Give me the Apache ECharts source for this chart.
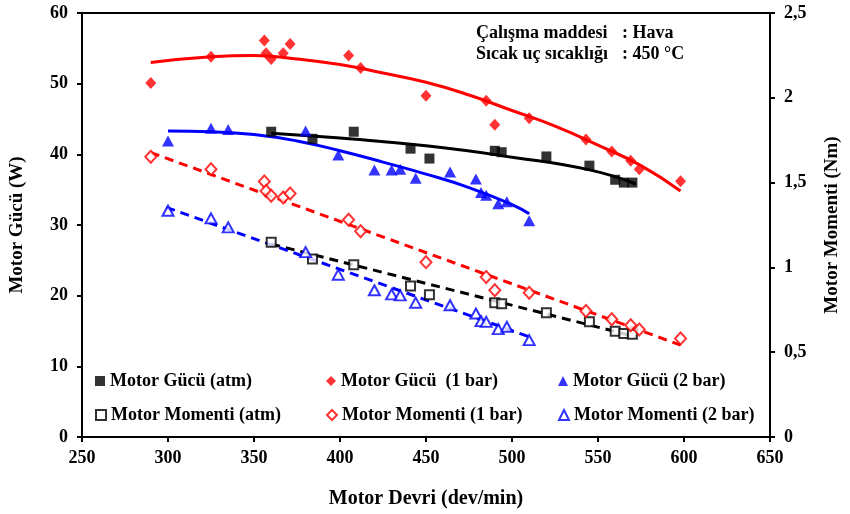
<!DOCTYPE html>
<html>
<head>
<meta charset="utf-8">
<script src="https://cdn.jsdelivr.net/npm/echarts@6/dist/echarts.min.js"></script>
<style>
  html, body { margin: 0; padding: 0; background: #fff; }
  #chart { width: 850px; height: 514px; }
</style>
</head>
<body>
<div id="chart"></div>
<script>
'use strict';

// motor speed (dev/min) for each pressure
const rpmAtm = [360, 384, 408, 441, 452, 490, 494, 520, 545, 560, 565, 570];
const rpm1Bar = [290, 325, 356, 357, 360, 367, 371, 405, 412, 450, 485, 490, 510, 543, 558, 569, 574, 598];
const rpm2Bar = [300, 325, 335, 380, 399, 420, 430, 435, 444, 464, 479, 482, 485, 492, 497, 510];

// motor power (W)
const gucAtm = [43.2, 42.2, 43.2, 40.8, 39.4, 40.5, 40.3, 39.7, 38.4, 36.4, 36.0, 36.0];
const guc1Bar = [50.1, 53.8, 56.1, 54.3, 53.5, 54.3, 55.6, 54.0, 52.2, 48.3, 47.6, 44.2, 45.1, 42.1, 40.4, 39.1, 37.9, 36.2];
const guc2Bar = [41.9, 43.7, 43.5, 43.3, 39.9, 37.8, 37.8, 37.9, 36.6, 37.5, 36.5, 34.6, 34.2, 33.0, 33.3, 30.6];

// motor torque (Nm)
const momAtm = [1.148, 1.050, 1.015, 0.890, 0.839, 0.792, 0.786, 0.733, 0.679, 0.624, 0.610, 0.606];
const mom1Bar = [1.653, 1.579, 1.506, 1.451, 1.422, 1.412, 1.436, 1.281, 1.213, 1.031, 0.943, 0.865, 0.851, 0.743, 0.694, 0.659, 0.634, 0.581];
const mom2Bar = [1.334, 1.289, 1.236, 1.090, 0.957, 0.865, 0.841, 0.835, 0.792, 0.777, 0.728, 0.683, 0.679, 0.636, 0.650, 0.571];

// trend lines
const trendGucAtmX = [360, 400, 450, 500, 545, 572];
const trendGucAtmY = [43.0, 42.3, 41.2, 39.6, 37.8, 35.8];
const trendGuc1BarX = [290, 325, 350, 375, 400, 425, 450, 475, 500, 525, 550, 575, 598];
const trendGuc1BarY = [53.0, 53.8, 54.0, 53.5, 52.7, 51.5, 50.2, 48.4, 46.2, 44.0, 41.3, 38.4, 34.8];
const trendGuc2BarX = [300, 325, 350, 375, 400, 425, 450, 475, 500, 510];
const trendGuc2BarY = [43.3, 43.2, 42.8, 41.9, 40.5, 38.9, 37.2, 35.3, 32.9, 31.6];
const trendMomAtmX = [360, 572];
const trendMomAtmY = [1.138, 0.591];
const trendMom1BarX = [290, 598];
const trendMom1BarY = [1.677, 0.542];
const trendMom2BarX = [299, 510];
const trendMom2BarY = [1.354, 0.591];

const xTicks = [250, 650, 50];
const yLeftTicks = [0, 60, 10];
const yRightTicks = [0, 2.5, 0.5];

const names = [
  'Motor Gücü (atm)', 'Motor Gücü  (1 bar)', 'Motor Gücü (2 bar)',
  'Motor Momenti (atm)', 'Motor Momenti (1 bar)', 'Motor Momenti (2 bar)'
];

const FONT = "'Liberation Serif', 'Times New Roman', serif";

function zip(xs, ys) {
  return xs.map((x, i) => [x, ys[i]]);
}

function scatter(name, symbol, size, color, hollow, yIndex, xs, ys) {
  return {
    name: name,
    type: 'scatter',
    yAxisIndex: yIndex,
    symbol: symbol,
    symbolSize: size,
    itemStyle: hollow
      ? { color: '#fff', borderColor: color, borderWidth: 2 }
      : { color: color },
    z: 3,
    data: zip(xs, ys)
  };
}

function trend(color, dashed, smooth, yIndex, xs, ys) {
  return {
    type: 'line',
    yAxisIndex: yIndex,
    showSymbol: false,
    silent: true,
    smooth: smooth,
    lineStyle: { color: color, width: 3, type: dashed ? [9, 6] : 'solid' },
    z: 2,
    data: zip(xs, ys)
  };
}

const legendPos = [[95, 372], [326, 372], [558, 372], [95, 406], [326, 406], [558, 406]];

const option = {
  animation: false,
  backgroundColor: '#fff',
  textStyle: { fontFamily: FONT },
  grid: {
    left: 82, right: 74, top: 13, bottom: 75,
    show: true, borderColor: '#000', borderWidth: 2
  },
  legend: names.map((n, i) => ({
    data: [n],
    left: legendPos[i][0],
    top: legendPos[i][1],
    padding: 0,
    itemWidth: 10,
    itemHeight: 10,
    itemGap: 0,
    textStyle: { fontFamily: FONT, fontWeight: 'bold', fontSize: 18, color: '#000', lineHeight: 18 }
  })),
  xAxis: {
    type: 'value',
    min: xTicks[0], max: xTicks[1], interval: xTicks[2],
    name: 'Motor Devri (dev/min)',
    nameLocation: 'middle',
    nameGap: 52,
    nameTextStyle: { fontFamily: FONT, fontWeight: 'bold', fontSize: 20, color: '#000' },
    axisLine: { lineStyle: { color: '#000', width: 2 } },
    axisTick: { length: 5, lineStyle: { color: '#000', width: 2 } },
    axisLabel: { margin: 12, fontFamily: FONT, fontWeight: 'bold', fontSize: 18, color: '#000' },
    splitLine: { show: false }
  },
  yAxis: [
    {
      type: 'value',
      min: yLeftTicks[0], max: yLeftTicks[1], interval: yLeftTicks[2],
      name: 'Motor Gücü (W)',
      nameLocation: 'middle',
      nameRotate: 90,
      nameGap: 55,
      nameTextStyle: { fontFamily: FONT, fontWeight: 'bold', fontSize: 19, color: '#000' },
      axisLine: { show: true, lineStyle: { color: '#000', width: 2 } },
      axisTick: { show: true, length: 5, lineStyle: { color: '#000', width: 2 } },
      axisLabel: { margin: 14, fontFamily: FONT, fontWeight: 'bold', fontSize: 18, color: '#000' },
      splitLine: { show: false }
    },
    {
      type: 'value',
      position: 'right',
      min: yRightTicks[0], max: yRightTicks[1], interval: yRightTicks[2],
      name: 'Motor Momenti (Nm)',
      nameLocation: 'middle',
      nameRotate: 90,
      nameGap: 53,
      nameTextStyle: { fontFamily: FONT, fontWeight: 'bold', fontSize: 19, color: '#000' },
      axisLine: { show: true, lineStyle: { color: '#000', width: 2 } },
      axisTick: { show: true, length: 5, lineStyle: { color: '#000', width: 2 } },
      axisLabel: {
        margin: 14, fontFamily: FONT, fontWeight: 'bold', fontSize: 18, color: '#000',
        formatter: v => String(v).replace('.', ',')
      },
      splitLine: { show: false }
    }
  ],
  graphic: [
    { type: 'text', left: 476, top: 24, style: { text: 'Çalışma maddesi', font: 'bold 18px ' + FONT, fill: '#000' } },
    { type: 'text', left: 622, top: 24, style: { text: ': Hava', font: 'bold 18px ' + FONT, fill: '#000' } },
    { type: 'text', left: 476, top: 45, style: { text: 'Sıcak uç sıcaklığı', font: 'bold 18px ' + FONT, fill: '#000' } },
    { type: 'text', left: 622, top: 45, style: { text: ': 450 °C', font: 'bold 18px ' + FONT, fill: '#000' } }
  ],
  series: [
    scatter(names[0], 'rect', 10, '#000', false, 0, rpmAtm, gucAtm),
    scatter(names[1], 'diamond', [11, 12], '#ff0000', false, 0, rpm1Bar, guc1Bar),
    scatter(names[2], 'triangle', [12, 11], '#0000ff', false, 0, rpm2Bar, guc2Bar),
    scatter(names[3], 'rect', 9, '#000', true, 1, rpmAtm, momAtm),
    scatter(names[4], 'diamond', [11, 12], '#ff0000', true, 1, rpm1Bar, mom1Bar),
    scatter(names[5], 'triangle', [11, 10], '#0000ff', true, 1, rpm2Bar, mom2Bar),
    trend('#000', false, true, 0, trendGucAtmX, trendGucAtmY),
    trend('#ff0000', false, true, 0, trendGuc1BarX, trendGuc1BarY),
    trend('#0000ff', false, true, 0, trendGuc2BarX, trendGuc2BarY),
    trend('#000', true, false, 1, trendMomAtmX, trendMomAtmY),
    trend('#ff0000', true, false, 1, trendMom1BarX, trendMom1BarY),
    trend('#0000ff', true, false, 1, trendMom2BarX, trendMom2BarY)
  ]
};

const chart = echarts.init(document.getElementById('chart'), null, { renderer: 'canvas' });
chart.setOption(option);
</script>
</body>
</html>
